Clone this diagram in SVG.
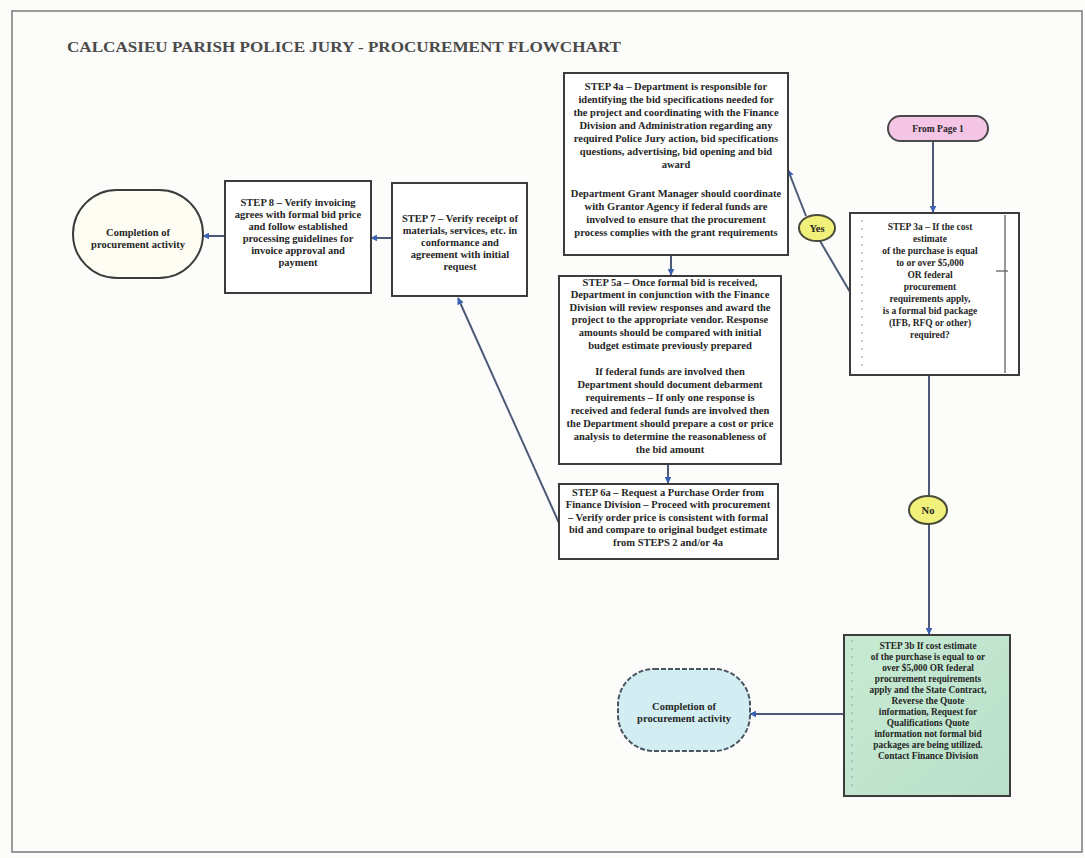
<svg xmlns="http://www.w3.org/2000/svg" width="1085" height="858" viewBox="0 0 1085 858">
<defs>
<marker id="arr" viewBox="0 0 10 10" refX="9" refY="5" markerWidth="7" markerHeight="7" orient="auto-start-reverse" markerUnits="userSpaceOnUse">
<path d="M0,0 L10,5 L0,10 z" fill="#3b62b0"/>
</marker>
<linearGradient id="grn" x1="0" y1="0" x2="1" y2="1">
<stop offset="0" stop-color="#c8ead2"/>
<stop offset="1" stop-color="#b9e0cb"/>
</linearGradient>
<style>
.box{fill:#ffffff;stroke:#3c3c3c;stroke-width:2}
.t{font-family:"Liberation Serif",serif;font-weight:bold;font-size:10.5px;fill:#262626;text-anchor:middle}
.tm{font-family:"Liberation Serif",serif;font-weight:bold;font-size:9.5px;fill:#262626;text-anchor:middle}
.ts{font-family:"Liberation Serif",serif;font-weight:bold;font-size:9.3px;fill:#262626;text-anchor:middle}
.c{fill:none;stroke:#4c5a78;stroke-width:2;marker-end:url(#arr)}
.cn{fill:none;stroke:#4c5a78;stroke-width:2}
.lbl{fill:#f1f07a;stroke:#4a4a3a;stroke-width:2}
</style>
</defs>
<rect x="0" y="0" width="1085" height="858" fill="#fcfcfa"/>
<rect x="12" y="11" width="1070" height="841" fill="none" stroke="#7a7a7a" stroke-width="1.5"/>
<text x="67" y="52" font-family="Liberation Serif,serif" font-weight="bold" font-size="15" fill="#4a4a4a" textLength="554" lengthAdjust="spacingAndGlyphs">CALCASIEU PARISH POLICE JURY - PROCUREMENT FLOWCHART</text>

<g id="connectors">
<path class="c" d="M933,141 L933,212"/>
<path class="cn" d="M850,292 L820,241"/>
<path class="c" d="M806,216 L788,170"/>
<path class="cn" d="M929,375 L929,495"/>
<path class="c" d="M929,525 L929,634"/>
<path class="c" d="M671,255 L671,275"/>
<path class="c" d="M668,464 L668,483"/>
<path class="c" d="M559,523 L458,298"/>
<path class="c" d="M392,238 L371,238"/>
<path class="c" d="M225,236 L203,236"/>
<path class="c" d="M844,714 L750,714"/>
</g>

<g id="from-page-1">
<rect x="888" y="116" width="100" height="25" rx="12.5" fill="#f5c5e6" stroke="#4a4a4a" stroke-width="2"/>
<text class="tm" x="938" y="132">From Page 1</text>
</g>

<g id="step-3a">
<rect class="box" x="850" y="213" width="169" height="162"/>
<line x1="1005" y1="215" x2="1005" y2="373" stroke="#555" stroke-width="1.2"/>
<line x1="862" y1="220" x2="862" y2="368" stroke="#999" stroke-width="1" stroke-dasharray="2,6"/>
<line x1="996" y1="271" x2="1008" y2="271" stroke="#555" stroke-width="1.2"/>
<text class="tm"><tspan x="930" y="230">STEP 3a – If the cost</tspan><tspan x="930" y="242">estimate</tspan><tspan x="930" y="254">of the purchase is equal</tspan><tspan x="930" y="266">to or over $5,000</tspan><tspan x="930" y="278">OR federal</tspan><tspan x="930" y="290">procurement</tspan><tspan x="930" y="302">requirements apply,</tspan><tspan x="930" y="314">is a formal bid package</tspan><tspan x="930" y="326">(IFB, RFQ or other)</tspan><tspan x="930" y="338">required?</tspan></text>
</g>

<g id="yes">
<ellipse class="lbl" cx="817" cy="228" rx="18" ry="13"/>
<text class="t" x="817" y="232">Yes</text>
</g>

<g id="no">
<ellipse class="lbl" cx="928" cy="510" rx="19" ry="14"/>
<text class="t" x="928" y="514">No</text>
</g>

<g id="step-4a">
<rect class="box" x="564" y="73" width="224" height="182"/>
<text class="t"><tspan x="676" y="90">STEP 4a – Department is responsible for</tspan><tspan x="676" y="103">identifying the bid specifications needed for</tspan><tspan x="676" y="116">the project and coordinating with the Finance</tspan><tspan x="676" y="129">Division and Administration regarding any</tspan><tspan x="676" y="142">required Police Jury action, bid specifications</tspan><tspan x="676" y="155">questions, advertising, bid opening and bid</tspan><tspan x="676" y="168">award</tspan><tspan x="676" y="197">Department Grant Manager should coordinate</tspan><tspan x="676" y="210">with Grantor Agency if federal funds are</tspan><tspan x="676" y="223">involved to ensure that the procurement</tspan><tspan x="676" y="236">process complies with the grant requirements</tspan></text>
</g>

<g id="step-5a">
<rect class="box" x="559" y="276" width="222" height="188"/>
<text class="t"><tspan x="670" y="286">STEP 5a – Once formal bid is received,</tspan><tspan x="670" y="298">Department in conjunction with the Finance</tspan><tspan x="670" y="311">Division will review responses and award the</tspan><tspan x="670" y="323">project to the appropriate vendor. Response</tspan><tspan x="670" y="336">amounts should be compared with initial</tspan><tspan x="670" y="349">budget estimate previously prepared</tspan><tspan x="670" y="375">If federal funds are involved then</tspan><tspan x="670" y="388">Department should document debarment</tspan><tspan x="670" y="401">requirements – If only one response is</tspan><tspan x="670" y="414">received and federal funds are involved then</tspan><tspan x="670" y="427">the Department should prepare a cost or price</tspan><tspan x="670" y="440">analysis to determine the reasonableness of</tspan><tspan x="670" y="453">the bid amount</tspan></text>
</g>

<g id="step-6a">
<rect class="box" x="559" y="484" width="219" height="75"/>
<text class="t"><tspan x="668" y="496">STEP 6a – Request a Purchase Order from</tspan><tspan x="668" y="508">Finance Division – Proceed with procurement</tspan><tspan x="668" y="521">– Verify order price is consistent with formal</tspan><tspan x="668" y="533">bid and compare to original budget estimate</tspan><tspan x="668" y="546">from STEPS 2 and/or 4a</tspan></text>
</g>

<g id="step-7">
<rect class="box" x="392" y="183" width="135" height="113"/>
<text class="t"><tspan x="460" y="222">STEP 7 – Verify receipt of</tspan><tspan x="460" y="234">materials, services, etc. in</tspan><tspan x="460" y="246">conformance and</tspan><tspan x="460" y="258">agreement with initial</tspan><tspan x="460" y="270">request</tspan></text>
</g>

<g id="step-8">
<rect class="box" x="225" y="181" width="146" height="112"/>
<text class="t"><tspan x="298" y="206">STEP 8 – Verify invoicing</tspan><tspan x="298" y="218">agrees with formal bid price</tspan><tspan x="298" y="230">and follow established</tspan><tspan x="298" y="242">processing guidelines for</tspan><tspan x="298" y="254">invoice approval and</tspan><tspan x="298" y="266">payment</tspan></text>
</g>

<g id="completion-top">
<rect x="73" y="190" width="130" height="88" rx="44" fill="#fdfdf3" stroke="#3c3c3c" stroke-width="2"/>
<text class="t"><tspan x="138" y="236">Completion of</tspan><tspan x="138" y="248">procurement activity</tspan></text>
</g>

<g id="step-3b">
<rect x="844" y="635" width="166" height="161" fill="url(#grn)" stroke="#3c3c3c" stroke-width="2"/>
<line x1="852" y1="640" x2="852" y2="790" stroke="#8aa" stroke-width="1" stroke-dasharray="2,6"/>
<text class="ts"><tspan x="928" y="649">STEP 3b  If cost estimate</tspan><tspan x="928" y="660">of the purchase is equal to or</tspan><tspan x="928" y="671">over $5,000 OR federal</tspan><tspan x="928" y="682">procurement requirements</tspan><tspan x="928" y="693">apply and the State Contract,</tspan><tspan x="928" y="704">Reverse the Quote</tspan><tspan x="928" y="715">information, Request for</tspan><tspan x="928" y="726">Qualifications Quote</tspan><tspan x="928" y="737">information not formal bid</tspan><tspan x="928" y="748">packages are being utilized.</tspan><tspan x="928" y="759">Contact Finance Division</tspan></text>
</g>

<g id="completion-bottom">
<rect x="618" y="669" width="132" height="82" rx="36" fill="#d3eef2" stroke="#4a5560" stroke-width="2" stroke-dasharray="5,2"/>
<text class="t"><tspan x="684" y="710">Completion of</tspan><tspan x="684" y="722">procurement activity</tspan></text>
</g>
</svg>
